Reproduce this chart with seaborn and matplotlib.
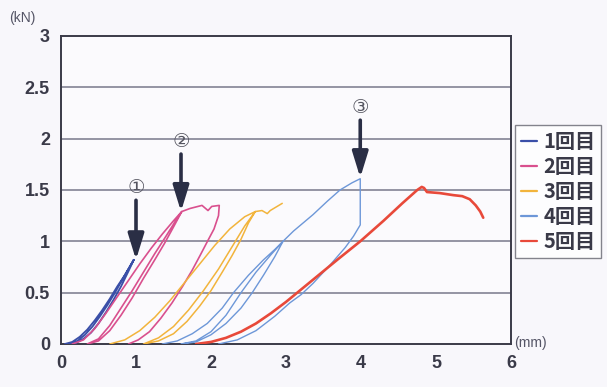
import matplotlib
matplotlib.use("Agg")
import matplotlib.pyplot as plt
from matplotlib.lines import Line2D
from matplotlib import font_manager
import seaborn as sns
import pandas as pd

sns.set_theme(style="white")
plt.rcParams['font.family'] = ['Noto Sans CJK JP', 'DejaVu Sans']

# ---- data ----
labels = ["1回目", "2回目", "3回目", "4回目", "5回目"]
colors = ["#3a4fa8", "#d9508e", "#f2b43c", "#6d97d8", "#e8493a"]

c1_x = [0.05, 0.15, 0.25, 0.35, 0.45, 0.55, 0.65, 0.75, 0.85, 0.97,
        0.9, 0.8, 0.7, 0.6, 0.5, 0.4, 0.3, 0.2, 0.12,
        0.22, 0.32, 0.42, 0.52, 0.62, 0.72, 0.82, 0.97]
c1_y = [0.0, 0.02, 0.07, 0.14, 0.23, 0.33, 0.44, 0.56, 0.67, 0.82,
        0.71, 0.56, 0.43, 0.31, 0.2, 0.11, 0.05, 0.01, 0.0,
        0.03, 0.09, 0.17, 0.27, 0.38, 0.5, 0.63, 0.82]

c2_x = [0.15, 0.3, 0.45, 0.6, 0.75, 0.9, 1.05, 1.2, 1.35, 1.5, 1.61,
        1.5, 1.38, 1.25, 1.1, 0.95, 0.8, 0.65, 0.5, 0.35,
        0.5, 0.65, 0.8, 0.95, 1.1, 1.25, 1.4, 1.52, 1.61,
        1.72, 1.88, 1.96, 2.01, 2.11,
        2.1, 2.04, 1.96, 1.86, 1.75, 1.62, 1.48, 1.33, 1.18, 1.03, 0.9]
c2_y = [0.0, 0.04, 0.15, 0.3, 0.46, 0.62, 0.78, 0.93, 1.07, 1.2, 1.29,
        1.14, 0.98, 0.82, 0.64, 0.45, 0.28, 0.13, 0.03, 0.0,
        0.05, 0.18, 0.35, 0.52, 0.7, 0.88, 1.05, 1.19, 1.29,
        1.32, 1.35, 1.30, 1.34, 1.35,
        1.25, 1.12, 1.01, 0.87, 0.72, 0.56, 0.40, 0.25, 0.12, 0.04, 0.0]

c3_x = [0.65, 0.85, 1.05, 1.25, 1.45, 1.65, 1.85, 2.05, 2.25, 2.45, 2.59,
        2.5, 2.4, 2.28, 2.15, 2.0, 1.85, 1.68, 1.5, 1.3, 1.1,
        1.3, 1.5, 1.7, 1.9, 2.1, 2.3, 2.45, 2.59,
        2.68, 2.75, 2.79, 2.95]
c3_y = [0.0, 0.04, 0.13, 0.26, 0.42, 0.6, 0.78, 0.96, 1.12, 1.24, 1.29,
        1.18, 1.02, 0.86, 0.7, 0.52, 0.37, 0.22, 0.1, 0.03, 0.0,
        0.06, 0.17, 0.33, 0.52, 0.73, 0.97, 1.15, 1.29,
        1.30, 1.27, 1.30, 1.37]

c4_x = [1.35, 1.55, 1.75, 1.95, 2.15, 2.3, 2.5, 2.7, 2.85, 2.96,
        2.85, 2.7, 2.55, 2.4, 2.2, 2.0, 1.8, 1.6,
        1.8, 2.0, 2.2, 2.4, 2.6, 2.8, 2.96,
        3.1, 3.36, 3.55, 3.72, 3.88, 3.99,
        3.99, 3.9, 3.79, 3.6, 3.36, 3.2, 3.05, 2.85, 2.6, 2.35, 2.1]
c4_y = [0.0, 0.03, 0.1, 0.2, 0.35, 0.5, 0.67, 0.82, 0.92, 1.0,
        0.85, 0.67, 0.5, 0.35, 0.2, 0.09, 0.02, 0.0,
        0.03, 0.12, 0.28, 0.5, 0.7, 0.87, 1.0,
        1.1, 1.26, 1.39, 1.50, 1.57, 1.61,
        1.16, 1.05, 0.94, 0.78, 0.59, 0.48, 0.40, 0.27, 0.13, 0.04, 0.0]

c5_x = [1.8, 2.0, 2.2, 2.4, 2.6, 2.8, 3.0, 3.15, 3.4, 3.7, 3.99, 4.3, 4.55, 4.75,
        4.81, 4.84, 4.88, 5.05, 5.23, 5.35, 5.45, 5.53, 5.59, 5.63]
c5_y = [0.0, 0.02, 0.06, 0.12, 0.2, 0.3, 0.41, 0.5, 0.65, 0.83, 1.0, 1.2, 1.37, 1.5,
        1.53, 1.52, 1.48, 1.47, 1.45, 1.44, 1.41, 1.35, 1.29, 1.23]

arrow_x = [1.0, 1.6, 3.99]
arrow_top = [1.40, 1.85, 2.18]
arrow_tip = [0.82, 1.29, 1.62]
arrow_lbl_y = [1.52, 1.97, 2.30]
arrow_lbl = ["①", "②", "③"]

yticks = [0, 0.5, 1, 1.5, 2, 2.5, 3]
ytick_labels = ["0", "0.5", "1", "1.5", "2", "2.5", "3"]
xticks = [0, 1, 2, 3, 4, 5, 6]

# ---- build table ----
rows = []
for lab, xs, ys in zip(labels, [c1_x, c2_x, c3_x, c4_x, c5_x], [c1_y, c2_y, c3_y, c4_y, c5_y]):
    for i, (x, y) in enumerate(zip(xs, ys)):
        rows.append({"cycle": lab, "x": x, "y": y, "order": i})
df = pd.DataFrame(rows)

names = {f.name for f in font_manager.fontManager.ttflist}
tick_family = [f for f in ["Liberation Sans Narrow", "Liberation Sans", "DejaVu Sans"] if f in names]

fig = plt.figure(figsize=(6.07, 3.87), dpi=100, facecolor="#f8f7fb")
ax = fig.add_axes([61/607, 43/387, 450/607, 308/387])
ax.set_facecolor("#fbfafd")

for y in yticks[1:-1]:
    ax.axhline(y, color="#8c8c9c", lw=1.3, zorder=1)

widths = [1.3, 1.2, 1.1, 1.0, 1.9]
for lab, col, w in zip(labels, colors, widths):
    sub = df[df.cycle == lab]
    sns.lineplot(data=sub, x="x", y="y", sort=False, estimator=None, color=col,
                 lw=w, ax=ax, zorder=3)

for ax_x, top, tip, ly, lt in zip(arrow_x, arrow_top, arrow_tip, arrow_lbl_y, arrow_lbl):
    ax.annotate("", xy=(ax_x, tip), xytext=(ax_x, top),
                arrowprops=dict(arrowstyle="-|>,head_width=0.4,head_length=1.3",
                                color="#2a2e45", lw=2.6, shrinkA=0, shrinkB=0), zorder=5)
    ax.text(ax_x, ly, lt, ha="center", va="center", fontsize=14, color="#555560",
            family=['DejaVu Sans'], zorder=5)

ax.set_xlim(0, 6)
ax.set_ylim(0, 3)
ax.set_xticks(xticks)
ax.set_xticklabels([str(t) for t in xticks])
ax.set_yticks(yticks)
ax.set_yticklabels(ytick_labels)
ax.tick_params(direction="in", length=5, width=1.2, colors="#333340",
               labelsize=13, labelcolor="#3a3a48", pad=8)
for lbl in ax.get_xticklabels() + ax.get_yticklabels():
    lbl.set_fontweight("bold")
    lbl.set_family(tick_family)
ax.set_xlabel("")
ax.set_ylabel("")
for side in ["left", "bottom", "top", "right"]:
    ax.spines[side].set_visible(True)
    ax.spines[side].set_color("#3a3a48")
    ax.spines[side].set_linewidth(1.4)

fig.text(22/607, 1 - 18/387, "(kN)", ha="center", va="center", fontsize=10,
         color="#555566", family=tick_family)
fig.text(514/607, 1 - 343/387, "(mm)", ha="left", va="center", fontsize=10,
         color="#555566", family=tick_family)

handles = [Line2D([0], [0], color=c, lw=1.6) for c in colors]
leg = fig.legend(handles, labels, loc="upper left", bbox_to_anchor=(515/607, 1 - 125/387),
                 frameon=True, fancybox=False, handlelength=0.8, handletextpad=0.3,
                 borderpad=0.3, labelspacing=0.2, borderaxespad=0,
                 prop={"family": ['Noto Sans CJK JP'], "weight": "bold", "size": 14.5})
leg.get_frame().set_edgecolor("#666670")
leg.get_frame().set_linewidth(1.0)
for t in leg.get_texts():
    t.set_color("#3a3a48")

fig.savefig("out.png", dpi=100, facecolor=fig.get_facecolor())
